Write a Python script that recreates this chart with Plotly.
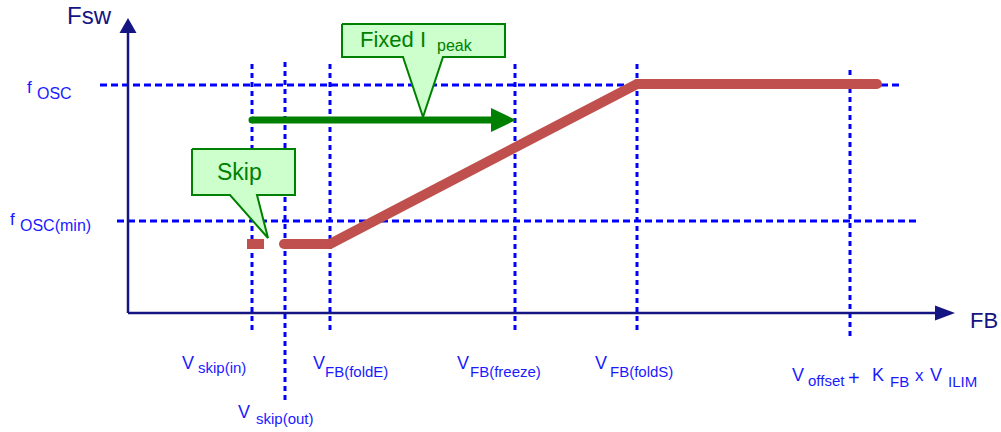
# Skip / fold-back frequency diagram: Fsw against FB

import plotly.graph_objects as go

# diagram coordinates: origin at the corner of the two axes, y upwards
axis_len_x = 827
axis_len_y = 295

# FB thresholds
fb_names = ['skip_in', 'skip_out', 'foldE', 'freeze', 'foldS', 'ilim']
fb_x = [124, 157, 202, 387, 509, 722]
fb_top = [253, 253, 253, 253, 253, 246]
fb_bottom = [-17, -87, -17, -17, -17, -23]

# FB tick labels, split into main text and subscript runs
fb_label_parts = [
    ['V', 'skip(in)'],
    ['V', 'skip(out)'],
    ['V', 'FB(foldE)'],
    ['V', 'FB(freeze)'],
    ['V', 'FB(foldS)'],
    ['V', 'offset', '+', 'K', 'FB', 'x', 'V', 'ILIM'],
]

# frequency levels
f_levels = [228, 92]
f_start = [-28, -11]
f_end = [774, 792]
f_label_parts = [['f', 'OSC'], ['f', 'OSC(min)']]

# switching frequency curve
skip_x = [119, 136]
skip_y = [69, 69]
fsw_x = [156, 202, 509, 749]
fsw_y = [69, 69, 229, 229]

# fixed Ipeak range
ipeak_x = [124, 388]
ipeak_y = 193

# callouts: box x0, x1, y_top, y_bottom, pointer base x0, x1, tip
callouts = [
    dict(box=(64, 167, 164, 118), base=(102, 129), tip=(140, 75), parts=['Skip']),
    dict(box=(214, 377, 289, 256), base=(275, 315), tip=(295, 196), parts=['Fixed I', 'peak']),
]

# text placement (page pixels: left edge, baseline, font size) per run
OX, OY = 128, 313
fb_label_layout = [
    [(182, 369, 18), (198, 373, 15)],
    [(238, 418, 18), (256, 424, 15)],
    [(313, 369, 18), (325, 377, 15)],
    [(457, 369, 18), (470, 377, 15)],
    [(595, 369, 18), (610, 377, 15)],
    [(792, 381, 18), (808, 386, 15), (848, 385, 20), (872, 381, 18), (890, 387, 15),
     (915, 381, 17), (930, 381, 18), (948, 387, 15)],
]
f_label_layout = [[(27, 93, 17), (37, 99, 16)], [(10, 225, 17), (20, 231, 16)]]
callout_layout = [[(217, 180, 23)], [(360, 47, 22), (437, 51, 16)]]

NAVY = '#141482'
BLUE = '#0000ff'
LABEL = '#1a1aff'
RED = '#c0504d'
GREEN = '#008000'
FONT = 'Liberation Sans, Arial, sans-serif'

annotations = []


def place(text, left, base, size, color):
    annotations.append(dict(x=left - OX - 2.5, y=OY - (base - 0.35 * size), text=text,
                            showarrow=False, xanchor='left', yanchor='middle',
                            font=dict(family=FONT, size=size, color=color)))


fig = go.Figure()

# dashed guide lines
for x, t, b in zip(fb_x, fb_top, fb_bottom):
    fig.add_trace(go.Scatter(x=[x, x], y=[b, t], mode='lines',
                             line=dict(color=BLUE, width=3, dash='5px,4px')))
for y, s, e in zip(f_levels, f_start, f_end):
    fig.add_trace(go.Scatter(x=[s, e], y=[y, y], mode='lines',
                             line=dict(color=BLUE, width=3, dash='7px,4px')))

# axes with arrowheads
fig.add_trace(go.Scatter(x=[0, axis_len_x - 18], y=[0, 0], mode='lines',
                         line=dict(color=NAVY, width=2.5)))
fig.add_trace(go.Scatter(x=[0, 0], y=[0, axis_len_y - 14], mode='lines',
                         line=dict(color=NAVY, width=2.5)))
fig.add_trace(go.Scatter(x=[axis_len_x - 20, axis_len_x, axis_len_x - 20, axis_len_x - 20],
                         y=[7.5, 0, -7.5, 7.5], mode='lines', fill='toself',
                         fillcolor=NAVY, line=dict(color=NAVY, width=0)))
fig.add_trace(go.Scatter(x=[-8.5, 0, 8.5, -8.5],
                         y=[axis_len_y - 15, axis_len_y, axis_len_y - 15, axis_len_y - 15],
                         mode='lines', fill='toself', fillcolor=NAVY,
                         line=dict(color=NAVY, width=0)))

# fixed Ipeak arrow
fig.add_trace(go.Scatter(x=[ipeak_x[0], ipeak_x[1] - 24], y=[ipeak_y, ipeak_y], mode='lines',
                         line=dict(color=GREEN, width=7)))
fig.add_trace(go.Scatter(x=[ipeak_x[0]], y=[ipeak_y], mode='markers',
                         marker=dict(color=GREEN, size=7, line=dict(width=0))))
fig.add_trace(go.Scatter(x=[ipeak_x[1] - 25, ipeak_x[1], ipeak_x[1] - 25, ipeak_x[1] - 25],
                         y=[ipeak_y + 12, ipeak_y, ipeak_y - 12, ipeak_y + 12],
                         mode='lines', fill='toself', fillcolor=GREEN,
                         line=dict(color=GREEN, width=0)))

# Fsw curve
fig.add_trace(go.Scatter(x=skip_x, y=skip_y, mode='lines', line=dict(color=RED, width=10)))
fig.add_trace(go.Scatter(x=fsw_x, y=fsw_y, mode='lines', line=dict(color=RED, width=10)))
fig.add_trace(go.Scatter(x=[fsw_x[0], fsw_x[-1]], y=[fsw_y[0], fsw_y[-1]], mode='markers',
                         marker=dict(color=RED, size=10, line=dict(width=0))))

# callouts
for c, lay in zip(callouts, callout_layout):
    x0, x1, yt, yb = c['box']
    b0, b1 = c['base']
    tx, ty = c['tip']
    fig.add_trace(go.Scatter(x=[x0, x1, x1, b1, tx, b0, x0, x0],
                             y=[yt, yt, yb, yb, ty, yb, yb, yt],
                             mode='lines', fill='toself', fillcolor='#ccffcc',
                             line=dict(color=GREEN, width=2)))
    for t, (l, b, s) in zip(c['parts'], lay):
        place(t, l, b, s, GREEN)

for parts, lay in zip(fb_label_parts + f_label_parts, fb_label_layout + f_label_layout):
    for t, (l, b, s) in zip(parts, lay):
        place(t, l, b, s, LABEL)

place('Fsw', 67, 24, 24, NAVY)
place('FB', 970, 328, 22, NAVY)

fig.update_traces(hoverinfo='skip')
fig.update_layout(
    width=1001, height=432,
    margin=dict(l=0, r=0, t=0, b=0),
    showlegend=False,
    plot_bgcolor='white', paper_bgcolor='white',
    xaxis=dict(range=[-OX, 1001 - OX], visible=False, fixedrange=True),
    yaxis=dict(range=[OY - 432, OY], visible=False, fixedrange=True),
    annotations=annotations,
)
fig.write_html("out.html", config={'displayModeBar': False},
               post_script="document.body.style.margin='0';")
